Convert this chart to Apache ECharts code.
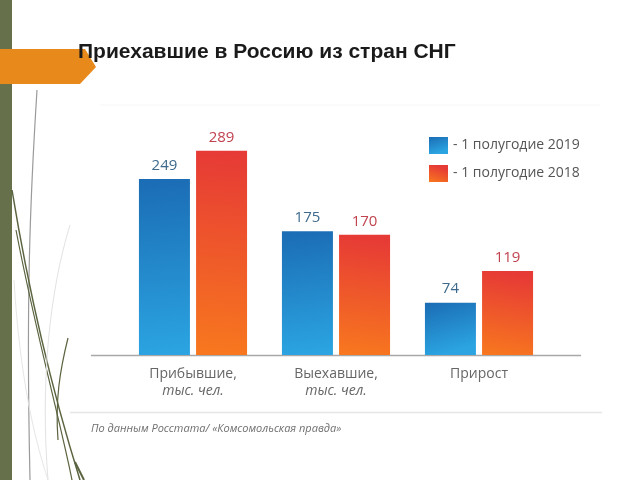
<!DOCTYPE html>
<html>
<head>
<meta charset="utf-8">
<script src="https://cdn.jsdelivr.net/npm/echarts@6/dist/echarts.min.js"></script>
<style>html,body{margin:0;padding:0;background:#fff}#c{width:640px;height:480px}</style>
</head>
<body>
<div id="c"></div>
<script>
const categories = ['Прибывшие,\n{i|тыс. чел.}', 'Выехавшие,\n{i|тыс. чел.}', 'Прирост'];
const series2019 = [249, 175, 74];
const series2018 = [289, 170, 119];
const seriesNames = ['- 1 полугодие 2019', '- 1 полугодие 2018'];
const titleText = 'Приехавшие в Россию из стран СНГ';
const sourceText = 'По данным Росстата/ «Комсомольская правда»';

const blue = new echarts.graphic.LinearGradient(0, 0, 0.3, 1, [
  {offset: 0, color: '#1b6cb4'}, {offset: 1, color: '#2ba4e1'}]);
const orange = new echarts.graphic.LinearGradient(0.3, 0, 0, 1, [
  {offset: 0, color: '#e63a36'}, {offset: 1, color: '#f8781e'}]);

const chart = echarts.init(document.getElementById('c'), null, {renderer: 'canvas'});
const font = '"Open Sans", "DejaVu Sans", sans-serif';

function curve(pts, color, w) {
  return {type: 'bezierCurve', silent: true,
    shape: {x1: pts[0], y1: pts[1], cpx1: pts[2], cpy1: pts[3], cpx2: pts[4], cpy2: pts[5], x2: pts[6], y2: pts[7]},
    style: {stroke: color, lineWidth: w, fill: null}};
}

chart.setOption({
  backgroundColor: '#ffffff',
  animation: false,
  grid: {left: 121.5, right: 89.5, top: 143, bottom: 125},
  legend: {
    orient: 'vertical', left: 424, top: 132, itemWidth: 19, itemHeight: 17, itemGap: 11,
    icon: 'rect', selectedMode: false,
    textStyle: {color: '#555', fontSize: 14, fontFamily: font},
    data: seriesNames
  },
  xAxis: {
    type: 'category', data: categories,
    axisLine: {show: false}, axisTick: {show: false},
    axisLabel: {
      margin: 11, color: '#666', fontSize: 14, fontFamily: font, lineHeight: 17,
      rich: {i: {fontStyle: 'italic', color: '#666', fontSize: 14, fontFamily: font, lineHeight: 17}}
    }
  },
  yAxis: {type: 'value', min: 0, max: 300, show: false, splitLine: {show: false}},
  series: [
    {name: seriesNames[0], type: 'bar', data: series2019, barWidth: 51, barGap: '12%',
     itemStyle: {color: blue},
     label: {show: true, position: 'top', distance: 6, color: '#3d6a8c', fontSize: 15, fontFamily: font}},
    {name: seriesNames[1], type: 'bar', data: series2018, barWidth: 51,
     itemStyle: {color: orange},
     label: {show: true, position: 'top', distance: 6, color: '#c0434e', fontSize: 15, fontFamily: font}}
  ],
  graphic: [
    {type: 'rect', silent: true, shape: {x: 0, y: 0, width: 12, height: 480}, style: {fill: '#66704b'}},
    curve([37, 90, 30, 200, 26, 300, 30, 480], '#9a9a9a', 1.2),
    curve([12, 190, 30, 300, 55, 400, 80, 480], '#5b6440', 1.5),
    curve([16, 230, 35, 330, 60, 420, 72, 480], '#5b6440', 1.2),
    curve([68, 338, 60, 370, 55, 400, 58, 440], '#5b6440', 1.2),
    curve([70, 225, 50, 290, 40, 380, 48, 480], '#e2e2e2', 1),
    curve([14, 280, 20, 380, 35, 440, 48, 480], '#e6e6e6', 1),
    {type: 'line', silent: true, shape: {x1: 75, y1: 462, x2: 84, y2: 480}, style: {stroke: '#5b6440', lineWidth: 2}},
    {type: 'polygon', silent: true, shape: {points: [[0, 49], [85, 49], [96, 67], [80, 84], [0, 84]]}, style: {fill: '#e8891c'}},
    {type: 'text', silent: true, left: 78, top: 42,
     style: {text: titleText, fill: '#1a1a1a', font: 'bold 21px "Liberation Sans", Arial, sans-serif'}},
    {type: 'line', silent: true, shape: {x1: 100, y1: 105, x2: 600, y2: 105}, style: {stroke: '#f6f6f6', lineWidth: 1}},
    {type: 'line', silent: true, shape: {x1: 91, y1: 355.5, x2: 581, y2: 355.5}, style: {stroke: '#a8a8a8', lineWidth: 1.5}},
    {type: 'line', silent: true, shape: {x1: 70, y1: 412.5, x2: 602, y2: 412.5}, style: {stroke: '#e6e6e6', lineWidth: 1.5}},
    {type: 'text', silent: true, left: 91, top: 423,
     style: {text: sourceText, fill: '#6f6f6f', font: 'italic 11px "Open Sans", sans-serif'}}
  ]
});
</script>
</body>
</html>
